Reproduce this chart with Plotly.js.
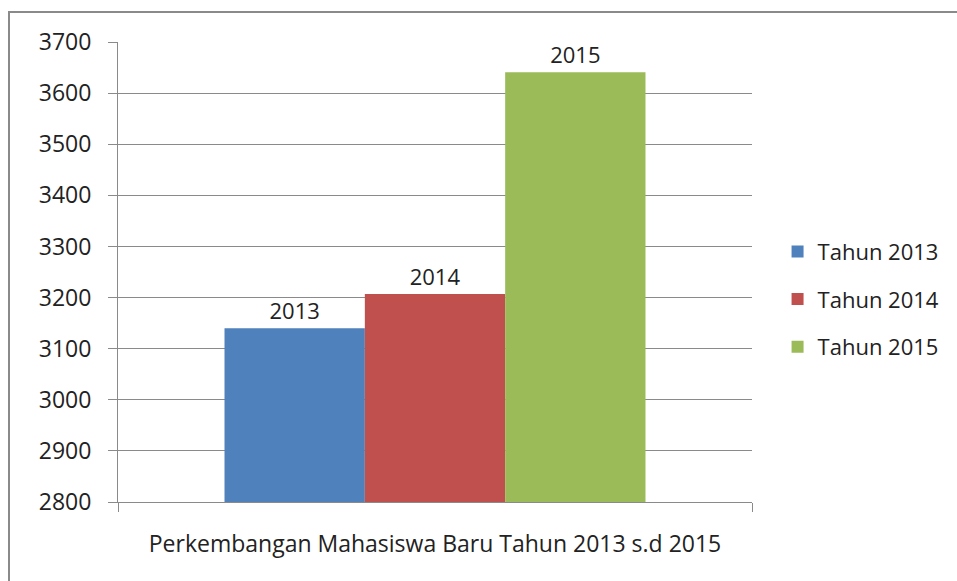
<!DOCTYPE html>
<html>
<head>
<meta charset="utf-8">
<script src="https://cdn.plot.ly/plotly-3.0.1.min.js"></script>
<style>
  html, body { margin: 0; padding: 0; background: #fff; }
  #wrap { position: relative; width: 957px; height: 581px; overflow: hidden; }
  #chart { width: 957px; height: 581px; }
  #frame { position: absolute; left: 8px; top: 11px; width: 1000px; height: 1000px;
           border-left: 2px solid #8a8a8a; border-top: 2px solid #8a8a8a; pointer-events: none; }
</style>
</head>
<body>
<div id="wrap">
  <div id="chart"></div>
  <div id="frame"></div>
</div>
<script>
const category = ["Perkembangan Mahasiswa Baru Tahun 2013 s.d 2015"];
const seriesNames = ["Tahun 2013", "Tahun 2014", "Tahun 2015"];
const barLabels = ["2013", "2014", "2015"];
const values = [3140, 3207, 3641];
const colors = ["#4F81BD", "#C0504D", "#9BBB59"];
const yTicks = [2800, 2900, 3000, 3100, 3200, 3300, 3400, 3500, 3600, 3700];

const font = "Open Sans, Lato, sans-serif";
const traces = seriesNames.map((name, i) => ({
  type: "bar",
  name: name,
  x: category,
  y: [values[i]],
  text: [barLabels[i]],
  textposition: "outside",
  textfont: { family: font, size: 22, color: "#222" },
  cliponaxis: false,
  marker: { color: colors[i], line: { width: 0 } },
  legendgroup: "g" + i,
  hoverinfo: "name+y"
}));

const layout = {
  width: 957,
  height: 581,
  margin: { l: 118, r: 205, t: 42, b: 79, autoexpand: false },
  paper_bgcolor: "#fff",
  plot_bgcolor: "#fff",
  barmode: "group",
  bargap: 0.336,
  bargroupgap: 0,
  font: { family: font, color: "#222" },
  showlegend: true,
  legend: {
    xref: "container", yref: "container",
    x: 0.8125, xanchor: "left", y: 0.485, yanchor: "middle",
    font: { family: font, size: 22, color: "#222" },
    tracegroupgap: 16,
    itemwidth: 30
  },
  xaxis: {
    type: "category",
    tickson: "boundaries",
    ticks: "outside",
    ticklen: 9,
    tickcolor: "#8a8a8a",
    showgrid: false,
    showline: true,
    linecolor: "#8a8a8a",
    linewidth: 1,
    tickfont: { family: font, size: 23, color: "#222" },
    ticklabelstandoff: 21,
    fixedrange: true
  },
  yaxis: {
    range: [2800, 3700],
    tickvals: yTicks,
    ticktext: yTicks.map(String),
    ticks: "outside",
    ticklen: 9,
    tickcolor: "#8a8a8a",
    showgrid: true,
    gridcolor: "#8a8a8a",
    gridwidth: 1,
    showline: true,
    linecolor: "#8a8a8a",
    linewidth: 1,
    zeroline: false,
    tickfont: { family: font, size: 23, color: "#222" },
    ticklabelstandoff: 12,
    fixedrange: true
  }
};

Plotly.newPlot("chart", traces, layout, { displayModeBar: false, staticPlot: true });
</script>
</body>
</html>
